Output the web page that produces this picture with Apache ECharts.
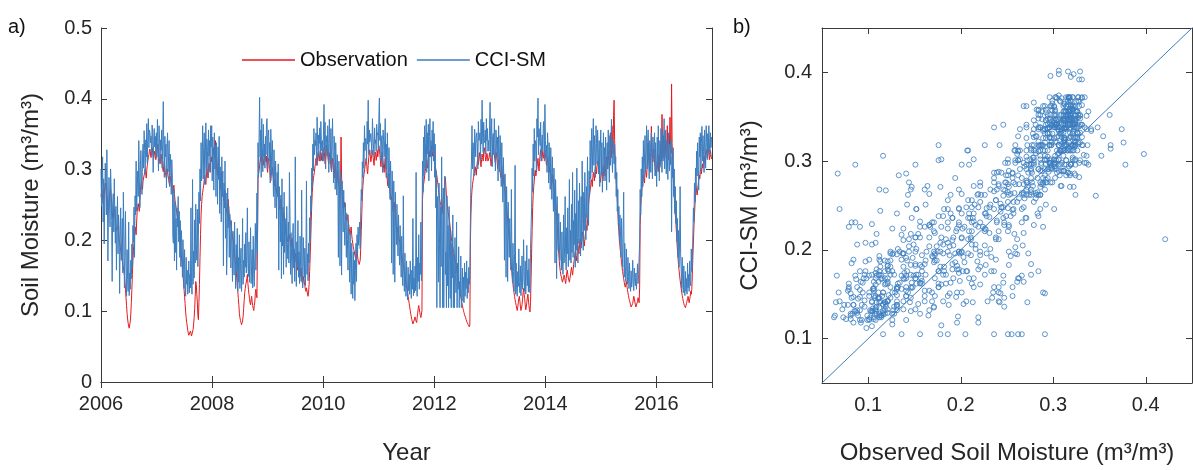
<!DOCTYPE html>
<html>
<head>
<meta charset="utf-8">
<script src="https://cdn.jsdelivr.net/npm/echarts@6/dist/echarts.min.js"></script>
<style>html,body{margin:0;padding:0;background:#fff}#c{width:1193px;height:470px}</style>
</head>
<body>
<div id="c"></div>
<script>
// ---- data (twice-weekly samples) ----
const startYear = 2006;
const stepDays = 3.5;
const seriesNames = ['Observation', 'CCI-SM'];
const yearTicks = [2006, 2008, 2010, 2012, 2014, 2016];
const scatterTicks = [0.1, 0.2, 0.3, 0.4];
const oneToOne = [0.05, 0.45];

const observation = [
// 2006
.262,.268,.271,.259,.252,.256,.261,.274,.281,.276,.270,.262,.251,.246,.243,.252,.261,.268,.272,.263,
.252,.241,.232,.236,.241,.244,.239,.228,.219,.214,.212,.218,.221,.210,.201,.197,.192,.186,.181,.175,
.171,.166,.161,.156,.151,.142,.131,.119,.108,.097,.089,.083,.079,.076,.078,.086,.096,.112,.131,.152,
.171,.186,.198,.207,.219,.213,.208,.226,.241,.248,.252,.246,.241,.257,.271,.279,.283,.276,.272,.284,
.286,.292,.296,.301,.294,.288,.299,.306,.312,.318,.321,.326,.329,.322,.317,.323,.331,.324,.319,.316,
.321,.326,.319,.314,
// 2007
.318,.324,.331,.336,.328,.319,.312,.308,.316,.322,.314,.306,.301,.297,.306,.312,.303,.296,.291,.287,
.294,.301,.292,.286,.281,.277,.284,.291,.283,.276,.271,.267,.273,.278,.266,.257,.252,.247,.241,.236,
.231,.226,.221,.214,.206,.198,.189,.179,.170,.161,.152,.141,.131,.121,.111,.099,.091,.084,.079,.073,
.069,.066,.064,.068,.072,.069,.065,.063,.067,.074,.082,.091,.104,.121,.142,.138,.124,.113,.094,.088,
.112,.138,.176,.208,.236,.251,.262,.268,.273,.278,.286,.292,.284,.279,.291,.301,.296,.288,.302,.309,
.303,.296,.314,.318,
// 2008
.311,.318,.324,.331,.322,.316,.329,.341,.324,.306,.298,.292,.311,.318,.297,.284,.278,.272,.289,.296,
.282,.268,.261,.256,.266,.271,.259,.248,.243,.238,.251,.258,.244,.236,.231,.226,.221,.216,.211,.206,
.201,.196,.188,.179,.172,.166,.158,.147,.136,.128,.118,.109,.097,.091,.087,.084,.081,.079,.086,.093,
.104,.115,.126,.132,.138,.141,.146,.152,.139,.131,.124,.118,.112,.109,.116,.121,.113,.108,.104,.101,
.108,.113,.126,.131,.124,.119,.121,.286,.294,.299,.306,.312,.318,.311,.321,.327,.319,.312,.306,.318,
.324,.317,.311,.319,
// 2009
.302,.296,.311,.316,.307,.301,.289,.284,.292,.298,.303,.294,.286,.281,.277,.286,.279,.271,.266,.274,
.268,.261,.256,.249,.244,.252,.258,.247,.239,.233,.228,.235,.239,.227,.221,.216,.212,.206,.201,.198,
.204,.209,.209,.201,.196,.191,.198,.203,.194,.186,.179,.174,.169,.176,.182,.171,.163,.158,.166,.172,
.161,.154,.149,.156,.161,.147,.141,.138,.144,.149,.141,.136,.131,.128,.133,.129,.124,.121,.127,.138,
.156,.178,.201,.227,.251,.268,.279,.287,.292,.298,.304,.309,.316,.311,.306,.318,.324,.319,.312,.321,
.326,.318,.313,.324,
// 2010
.318,.312,.324,.331,.319,.308,.314,.323,.334,.327,.319,.312,.308,.317,.324,.315,.302,.297,.309,.316,
.306,.294,.288,.301,.309,.296,.286,.281,.291,.299,.284,.276,.272,.268,.279,.346,.291,.262,.256,.261,
.252,.247,.254,.243,.238,.233,.228,.232,.236,.224,.218,.213,.208,.214,.219,.208,.201,.196,.191,.187,
.184,.179,.176,.172,.181,.186,.178,.172,.169,.166,.167,.172,.189,.214,.238,.262,.276,.286,.293,.298,
.304,.309,.316,.311,.299,.294,.306,.317,.322,.328,.319,.311,.316,.323,.327,.319,.312,.306,.318,.325,
.321,.313,.319,.327,
// 2011
.318,.326,.334,.329,.321,.312,.304,.317,.325,.319,.311,.302,.296,.309,.317,.301,.289,.295,.284,.277,
.289,.294,.279,.269,.264,.257,.262,.251,.246,.241,.249,.254,.242,.232,.227,.221,.215,.212,.219,.208,
.203,.199,.195,.191,.186,.181,.176,.171,.166,.161,.156,.151,.146,.141,.136,.131,.126,.121,.116,.111,
.106,.101,.096,.092,.088,.085,.082,.081,.084,.089,.092,.088,.086,.084,.091,.097,.104,.108,.103,.098,
.094,.091,.096,.101,.258,.271,.279,.284,.291,.297,.302,.309,.314,.307,.302,.316,.324,.318,.327,.321,
.329,.334,.325,.319,
// 2012
.327,.321,.314,.309,.305,.301,.296,.291,.286,.279,.272,.266,.259,.255,.251,.246,.242,.238,.251,.259,
.266,.271,.284,.289,.276,.262,.254,.247,.241,.236,.231,.226,.219,.211,.205,.199,.195,.191,.186,.182,
.178,.174,.169,.165,.161,.156,.151,.146,.141,.136,.131,.126,.121,.116,.112,.108,.104,.101,.098,.095,
.093,.091,.088,.086,.084,.082,.081,.079,.078,.081,.196,.236,.259,.271,.279,.284,.289,.295,.299,.304,
.298,.292,.303,.311,.314,.307,.318,.324,.316,.309,.304,.314,.322,.317,.312,.325,.331,.326,.318,.312,
.317,.323,.319,.312,
// 2013
.311,.317,.324,.319,.312,.305,.314,.321,.329,.336,.327,.321,.314,.309,.317,.324,.315,.301,.307,.314,
.309,.302,.296,.289,.297,.304,.291,.279,.285,.292,.276,.269,.263,.256,.248,.239,.229,.221,.211,.202,
.198,.188,.176,.164,.154,.145,.138,.131,.126,.121,.116,.112,.108,.104,.101,.106,.112,.118,.121,.114,
.106,.101,.104,.109,.116,.126,.132,.124,.118,.109,.102,.106,.112,.119,.124,.116,.108,.102,.099,.112,
.146,.182,.214,.246,.264,.276,.284,.294,.299,.291,.296,.303,.309,.316,.304,.298,.311,.322,.328,.319,
.312,.318,.326,.321,
// 2014
.316,.322,.328,.321,.313,.306,.312,.318,.309,.302,.296,.302,.308,.296,.287,.281,.289,.293,.283,.275,
.268,.263,.256,.246,.234,.222,.209,.194,.181,.171,.162,.156,.151,.148,.144,.141,.143,.147,.151,.148,
.143,.139,.146,.154,.158,.152,.147,.144,.141,.146,.151,.157,.162,.156,.151,.158,.166,.172,.178,.184,
.176,.171,.179,.188,.192,.186,.181,.194,.202,.196,.189,.198,.207,.212,.204,.198,.192,.201,.209,.216,
.221,.214,.226,.238,.251,.259,.266,.271,.277,.286,.282,.276,.289,.296,.291,.284,.298,.306,.301,.294,
.305,.312,.308,.302,
// 2015
.296,.289,.282,.288,.297,.303,.291,.284,.294,.306,.299,.291,.303,.311,.318,.306,.301,.313,.322,.328,
.321,.352,.326,.317,.362,.338,.322,.376,.398,.341,.316,.298,.284,.271,.257,.241,.226,.212,.201,.191,
.184,.176,.169,.162,.156,.151,.146,.141,.137,.134,.138,.142,.136,.131,.126,.122,.118,.115,.112,.109,
.106,.105,.107,.111,.116,.121,.118,.113,.109,.106,.105,.108,.114,.119,.116,.112,.134,.221,.246,.259,
.271,.279,.286,.292,.286,.281,.294,.301,.296,.289,.303,.314,.338,.318,.304,.298,.312,.324,.361,.332,
.316,.311,.323,.329,
// 2016
.309,.303,.296,.291,.299,.311,.306,.297,.321,.314,.303,.336,.321,.312,.378,.329,.316,.348,.331,.323,
.354,.326,.317,.331,.362,.323,.314,.329,.336,.374,.333,.323,.421,.337,.311,.291,.276,.262,.249,.236,
.226,.212,.198,.186,.176,.166,.158,.151,.144,.138,.132,.127,.122,.118,.114,.111,.108,.106,.105,.107,
.111,.114,.118,.121,.116,.112,.114,.121,.128,.124,.131,.152,.178,.198,.219,.236,.251,.264,.276,.271,
.264,.271,.279,.286,.292,.287,.297,.302,.294,.301,.308,.302,.312,.319,.314,.307,.321,.328,.323,.317,
.324,.331,.322,.314,.319,.327,.321,.315
];

const cciSm = [
// 2006
.301,.248,.276,.318,.226,.287,.195,.262,.309,.281,.236,.328,.265,.171,.243,.289,.254,.219,.301,.274,
.228,.142,.251,.266,.212,.287,.233,.196,.248,.158,.221,.262,.181,.236,.214,.125,.205,.246,.172,.198,
.231,.154,.268,.214,.133,.176,.241,.162,.121,.187,.145,.128,.226,.122,.154,.131,.172,.146,.195,.162,
.221,.198,.247,.176,.263,.236,.312,.241,.274,.298,.262,.341,.288,.246,.305,.327,.281,.265,.318,.336,
.302,.355,.327,.294,.342,.318,.365,.309,.346,.372,.331,.356,.352,.338,.347,.321,.363,.352,.296,.341,
.358,.332,.347,.319,
// 2007
.352,.318,.371,.336,.298,.362,.345,.311,.342,.327,.356,.302,.341,.396,.328,.289,.347,.318,.336,.274,
.331,.352,.297,.318,.341,.276,.322,.302,.265,.314,.291,.205,.196,.272,.171,.254,.183,.231,.158,.246,
.219,.262,.198,.241,.176,.228,.163,.214,.192,.148,.201,.168,.132,.187,.145,.121,.176,.138,.158,.124,
.142,.171,.126,.152,.133,.246,.141,.124,.286,.138,.185,.147,.229,.168,.251,.196,.172,.244,.163,.206,
.268,.224,.301,.256,.338,.284,.312,.362,.287,.331,.352,.279,.318,.366,.301,.343,.327,.289,.356,.319,
.341,.298,.362,.332,
// 2008
.362,.284,.346,.318,.271,.352,.301,.334,.262,.338,.295,.251,.332,.286,.347,.238,.304,.271,.226,.318,
.262,.298,.164,.281,.246,.312,.203,.267,.151,.189,.274,.218,.248,.176,.237,.205,.161,.228,.194,.142,
.213,.182,.151,.226,.168,.132,.194,.157,.217,.128,.176,.141,.208,.132,.167,.189,.128,.156,.231,.138,
.172,.148,.195,.162,.211,.154,.183,.246,.167,.149,.198,.141,.172,.218,.139,.164,.187,.133,.206,.152,
.135,.181,.224,.158,.196,.267,.182,.338,.291,.345,.402,.318,.356,.289,.372,.331,.297,.364,.318,.336,
.302,.347,.321,.368,
// 2009
.372,.301,.348,.356,.312,.338,.281,.357,.326,.292,.341,.305,.262,.328,.297,.246,.312,.278,.231,.296,
.262,.308,.158,.276,.248,.198,.264,.146,.287,.192,.247,.152,.268,.183,.231,.206,.162,.248,.197,.174,
.226,.168,.296,.241,.152,.211,.178,.139,.196,.224,.161,.188,.142,.318,.176,.135,.198,.165,.228,.148,
.184,.139,.206,.163,.142,.271,.158,.133,.204,.171,.148,.189,.136,.172,.284,.152,.181,.143,.196,.168,
.232,.198,.263,.241,.302,.274,.336,.298,.358,.321,.341,.334,.352,.306,.374,.341,.318,.349,.337,.359,
.312,.368,.341,.326,
// 2010
.341,.312,.356,.392,.328,.367,.301,.348,.338,.319,.362,.337,.296,.371,.344,.312,.358,.298,.336,.372,
.318,.281,.347,.326,.272,.338,.306,.264,.321,.291,.176,.312,.276,.164,.298,.261,.151,.284,.245,.212,
.271,.228,.193,.252,.214,.176,.238,.201,.158,.226,.187,.141,.212,.168,.124,.196,.152,.118,.184,.138,
.172,.115,.158,.196,.142,.208,.181,.219,.193,.204,.226,.188,.241,.272,.256,.311,.289,.338,.302,.362,
.327,.344,.341,.312,.368,.336,.398,.321,.356,.339,.338,.351,.351,.322,.372,.346,.348,.318,.359,.337,
.342,.326,.364,.349,
// 2011
.352,.327,.372,.401,.341,.365,.312,.344,.348,.296,.356,.341,.318,.342,.372,.301,.336,.288,.352,.318,
.274,.331,.296,.258,.312,.276,.168,.298,.261,.152,.284,.238,.141,.268,.223,.194,.251,.206,.178,.236,
.192,.165,.221,.178,.148,.206,.162,.136,.263,.154,.128,.182,.146,.121,.171,.138,.116,.162,.129,.152,
.124,.171,.136,.118,.158,.131,.231,.122,.147,.126,.164,.129,.296,.138,.121,.176,.142,.208,.131,.168,
.152,.226,.143,.189,.312,.268,.346,.291,.362,.302,.338,.371,.296,.352,.322,.364,.284,.347,.372,.318,
.341,.298,.356,.327,
// 2012
.368,.312,.351,.289,.336,.246,.298,.105,.262,.228,.141,.281,.196,.105,.247,.163,.318,.212,.105,.274,
.105,.236,.291,.152,.184,.105,.263,.136,.221,.105,.248,.172,.118,.214,.105,.196,.147,.236,.105,.181,
.105,.204,.152,.126,.226,.105,.168,.131,.191,.105,.142,.121,.178,.105,.126,.161,.114,.148,.112,.168,
.121,.155,.132,.171,.118,.146,.126,.162,.138,.151,.224,.287,.312,.362,.301,.338,.326,.291,.357,.342,
.318,.346,.352,.337,.301,.368,.341,.346,.352,.312,.371,.336,.398,.346,.324,.367,.341,.338,.356,.322,
.372,.341,.358,.326,
// 2013
.341,.326,.362,.395,.318,.347,.372,.304,.348,.351,.321,.372,.337,.298,.356,.342,.318,.346,.284,.362,
.331,.297,.348,.312,.276,.338,.291,.254,.317,.276,.172,.294,.258,.148,.276,.231,.142,.254,.212,.176,
.231,.194,.158,.272,.172,.141,.196,.156,.128,.182,.306,.124,.168,.131,.121,.156,.135,.188,.142,.126,
.164,.122,.141,.178,.131,.152,.201,.146,.128,.171,.124,.148,.193,.136,.158,.127,.174,.132,.126,.189,
.218,.246,.302,.268,.336,.291,.358,.312,.341,.336,.298,.372,.346,.401,.321,.358,.346,.334,.367,.312,
.338,.349,.326,.362,
// 2014
.368,.312,.392,.341,.318,.334,.296,.352,.327,.281,.338,.306,.272,.331,.296,.258,.318,.276,.241,.302,
.264,.168,.286,.248,.146,.262,.221,.186,.238,.198,.172,.226,.184,.158,.212,.171,.152,.236,.168,.191,
.262,.174,.158,.218,.181,.246,.163,.198,.286,.172,.214,.168,.251,.183,.296,.176,.228,.194,.271,.162,
.238,.186,.302,.204,.168,.256,.196,.281,.224,.178,.262,.198,.312,.231,.186,.268,.214,.296,.241,.201,
.276,.232,.318,.256,.221,.298,.264,.341,.287,.312,.358,.296,.334,.372,.306,.348,.326,.289,.362,.337,
.308,.356,.331,.294,
// 2015
.341,.276,.328,.356,.292,.338,.268,.311,.352,.296,.331,.284,.346,.312,.271,.338,.302,.356,.318,.282,
.348,.306,.332,.371,.314,.296,.342,.321,.308,.336,.287,.318,.262,.296,.241,.272,.221,.248,.198,.236,
.212,.176,.231,.188,.162,.214,.268,.148,.196,.163,.142,.188,.156,.138,.176,.149,.132,.168,.141,.128,
.157,.134,.146,.172,.138,.129,.161,.142,.136,.154,.131,.148,.167,.139,.152,.176,.198,.272,.236,.301,
.262,.318,.276,.341,.289,.312,.348,.297,.326,.362,.301,.338,.356,.312,.287,.341,.324,.296,.352,.318,
.287,.346,.316,.332,
// 2016
.352,.291,.338,.312,.276,.346,.301,.362,.318,.284,.341,.306,.358,.324,.296,.351,.312,.338,.372,.301,
.328,.356,.294,.341,.318,.286,.352,.321,.298,.336,.307,.342,.212,.318,.289,.331,.262,.301,.238,.276,
.224,.256,.198,.231,.176,.214,.162,.198,.276,.181,.158,.132,.176,.141,.126,.164,.131,.122,.156,.128,
.146,.124,.168,.133,.152,.128,.171,.142,.136,.188,.156,.172,.208,.246,.226,.281,.254,.302,.268,.326,
.291,.338,.304,.271,.346,.318,.352,.298,.337,.361,.312,.348,.326,.296,.356,.331,.302,.362,.338,.314,
.351,.327,.362,.338,.318,.352,.331,.346
];

// ---- build library data from the arrays ----
const yearOf = i => startYear + i * stepDays / 365.25;
const obsLine = observation.map((v, i) => [yearOf(i), v]);
const cciLine = cciSm.map((v, i) => [yearOf(i), v]);
const n = Math.min(observation.length, cciSm.length);
const pairs = [];
for (let i = 0; i < n; i++) pairs.push([observation[i], cciSm[i]]);
const diag = oneToOne.map(v => [v, v]);

const FONT = '"Liberation Sans", Arial, Helvetica, sans-serif';
const TXT = '#262626';
const AX = '#3a3a3a';
const BLUE = '#3b7dbf';
const RED = '#e6191d';

function fmt1(v) { return Math.abs(v) < 1e-9 ? '0' : (Math.round(v * 10) / 10).toFixed(1); }

function axisCommon(extra) {
  return Object.assign({
    type: 'value',
    axisLine: { show: true, lineStyle: { color: AX, width: 1 } },
    axisTick: { show: true, inside: true, length: 6, lineStyle: { color: AX } },
    splitLine: { show: false },
    axisLabel: { color: TXT, fontSize: 20, fontFamily: FONT },
    nameTextStyle: { color: TXT, fontSize: 24, fontFamily: FONT },
    nameLocation: 'middle'
  }, extra);
}

const chart = echarts.init(document.getElementById('c'), null, { renderer: 'canvas' });
chart.setOption({
  animation: false,
  textStyle: { fontFamily: FONT },
  grid: [
    { left: 101, top: 28, width: 611, height: 362 },
    { left: 822, top: 28, width: 370, height: 363 }
  ],
  legend: {
    data: seriesNames,
    left: 242, top: 50, padding: 0,
    icon: 'rect', itemWidth: 53, itemHeight: 1.5, itemGap: 9,
    textStyle: { fontSize: 20, color: '#111', fontFamily: FONT }
  },
  graphic: [
    { type: 'text', left: 8, top: 17, style: { text: 'a)', fontSize: 20, fill: '#111', fontFamily: FONT } },
    { type: 'text', left: 733, top: 17, style: { text: 'b)', fontSize: 20, fill: '#111', fontFamily: FONT } }
  ],
  xAxis: [
    axisCommon({ gridIndex: 0, min: 2006, max: 2017, interval: 2, position: 'bottom',
      name: 'Year', nameGap: 59,
      axisLabel: { color: TXT, fontSize: 20, fontFamily: FONT, margin: 12, showMaxLabel: false,
        formatter: v => String(Math.round(v)) } }),
    axisCommon({ gridIndex: 0, min: 2006, max: 2017, interval: 2, position: 'top', axisLabel: { show: false } }),
    axisCommon({ gridIndex: 1, min: 0.05, max: 0.45, position: 'bottom',
      name: 'Observed Soil Moisture (m³/m³)', nameGap: 58,
      axisTick: { show: true, inside: true, length: 6, lineStyle: { color: AX }, customValues: scatterTicks },
      axisLabel: { color: TXT, fontSize: 20, fontFamily: FONT, margin: 12, customValues: scatterTicks, formatter: fmt1 } }),
    axisCommon({ gridIndex: 1, min: 0.05, max: 0.45, position: 'top',
      axisTick: { show: true, inside: true, length: 6, lineStyle: { color: AX }, customValues: scatterTicks },
      axisLabel: { show: false } })
  ],
  yAxis: [
    axisCommon({ gridIndex: 0, min: 0, max: 0.5, interval: 0.1, position: 'left',
      name: 'Soil Moisture (m³/m³)', nameGap: 58,
      axisLabel: { color: TXT, fontSize: 20, fontFamily: FONT, margin: 9, formatter: fmt1 } }),
    axisCommon({ gridIndex: 0, min: 0, max: 0.5, interval: 0.1, position: 'right', axisLabel: { show: false } }),
    axisCommon({ gridIndex: 1, min: 0.05, max: 0.45, position: 'left',
      name: 'CCI-SM (m³/m³)', nameGap: 60,
      axisTick: { show: true, inside: true, length: 6, lineStyle: { color: AX }, customValues: scatterTicks },
      axisLabel: { color: TXT, fontSize: 20, fontFamily: FONT, margin: 10, customValues: scatterTicks, formatter: fmt1 } }),
    axisCommon({ gridIndex: 1, min: 0.05, max: 0.45, position: 'right',
      axisTick: { show: true, inside: true, length: 6, lineStyle: { color: AX }, customValues: scatterTicks },
      axisLabel: { show: false } })
  ],
  series: [
    { name: seriesNames[0], type: 'line', xAxisIndex: 0, yAxisIndex: 0, data: obsLine,
      symbol: 'none', color: RED, lineStyle: { color: RED, width: 1 }, z: 2 },
    { name: seriesNames[1], type: 'line', xAxisIndex: 0, yAxisIndex: 0, data: cciLine,
      symbol: 'none', color: BLUE, lineStyle: { color: BLUE, width: 1 }, z: 3 },
    { name: 'scatter', type: 'scatter', xAxisIndex: 2, yAxisIndex: 2, data: pairs,
      symbol: 'circle', symbolSize: 5, large: false,
      itemStyle: { color: 'rgba(0,0,0,0)', borderColor: BLUE, borderWidth: 1 }, z: 2 },
    { name: '1:1', type: 'line', xAxisIndex: 2, yAxisIndex: 2, data: diag,
      symbol: 'none', color: BLUE, lineStyle: { color: BLUE, width: 1 }, z: 3 }
  ]
});
</script>
</body>
</html>
